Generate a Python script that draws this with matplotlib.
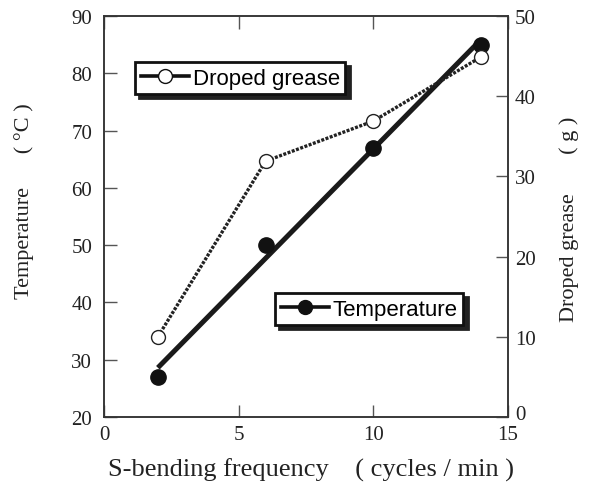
import numpy as np
import matplotlib
matplotlib.use("Agg")
import matplotlib.pyplot as plt
from matplotlib.lines import Line2D
from matplotlib.transforms import ScaledTranslation

freq = [2, 6, 10, 14]
temperature = [27, 50, 67, 85]
grease = [10, 31.9, 36.9, 44.9]

serif = "Liberation Serif"
sans = "Liberation Sans"

fig = plt.figure(figsize=(5.98, 4.85), dpi=100)
W, H = 598, 485
ax = fig.add_axes([104 / W, 1 - 418 / H, (508 - 104) / W, (418 - 17) / H])
ax2 = ax.twinx()

# Temperature: points + regression line
coef = np.polyfit(freq, temperature, 1)
xf = np.array([freq[0], freq[-1]])
ax.plot(xf, np.polyval(coef, xf), color="#1a1a1a", lw=3.6, solid_capstyle="butt", zorder=3)
ax.plot(freq, temperature, "o", color="#111111", ms=11, zorder=4)

# Droped grease
ax2.plot(freq, grease, color="#222222", lw=2.4, linestyle=(0, (0.9, 0.45)), zorder=3)
ax2.plot(freq, grease, "o", mfc="white", mec="#222222", mew=1.0, ms=10, zorder=4)

ax.set_xlim(0, 15)
ax.set_ylim(20, 90)
ax2.set_ylim(0, 50)
ax.set_xticks([0, 5, 10, 15])
ax.set_yticks(range(20, 91, 10))
ax2.set_yticks(range(0, 51, 10))

for a in (ax, ax2):
    for s in a.spines.values():
        s.set_linewidth(1.1)
        s.set_color("#333333")
ax.tick_params(axis="y", direction="in", length=9, width=1.0, color="#555555",
               labelsize=15, pad=8.5, labelcolor="#222222")
ax.tick_params(axis="x", direction="in", length=9, width=1.0, color="#555555",
               labelsize=15, pad=6, top=True, labelcolor="#222222")
ax2.tick_params(axis="y", direction="in", length=9, width=1.0, color="#555555",
                labelsize=15, pad=5, labelcolor="#222222")
for lab in ax.get_xticklabels() + ax.get_yticklabels() + ax2.get_yticklabels():
    lab.set_fontfamily(serif)
# lift the right-axis "0" slightly so it does not collide with the x-axis "15"
zero_lab = ax2.yaxis.get_major_ticks()[0].label2
zero_lab.set_transform(zero_lab.get_transform() + ScaledTranslation(0, 3.5 / 72, fig.dpi_scale_trans))

fig.text(311 / W, 1 - 477 / H, "S-bending frequency    ( cycles / min )",
         fontfamily=serif, fontsize=19, ha="center", va="baseline", color="#222222")
fig.text(24 / W, 1 - 201 / H, "Temperature      ( °C )", fontfamily=serif, fontsize=16,
         rotation=90, ha="center", va="center", color="#222222")
fig.text(569 / W, 1 - 219 / H, "Droped grease       ( g )", fontfamily=serif, fontsize=16,
         rotation=90, ha="center", va="center", color="#222222")

h1 = Line2D([], [], color="#111111", lw=2.6, marker="o", mfc="white", mec="#111111", ms=10)
h2 = Line2D([], [], color="#111111", lw=2.6, marker="o", mfc="#111111", mec="#111111", ms=10)

common = dict(frameon=True, fancybox=False, shadow={"color": "#222222", "alpha": 1.0, "ox": 3, "oy": -3},
              edgecolor="#111111", framealpha=1, handlelength=2.2, handletextpad=0.15,
              borderpad=0.25, borderaxespad=0, prop={"family": sans, "size": 16})
leg1 = ax.legend([h1], ["Droped grease"], loc="upper left",
                 bbox_to_anchor=((135 - 104) / 404, (418 - 63) / 401), **common)
leg1.get_frame().set_linewidth(2.0)
ax.add_artist(leg1)
leg2 = ax.legend([h2], ["Temperature"], loc="upper left",
                 bbox_to_anchor=((275 - 104) / 404, (418 - 294) / 401), **common)
leg2.get_frame().set_linewidth(2.0)
leg1.set_zorder(10)
leg2.set_zorder(10)

fig.savefig("out.png", dpi=100)
